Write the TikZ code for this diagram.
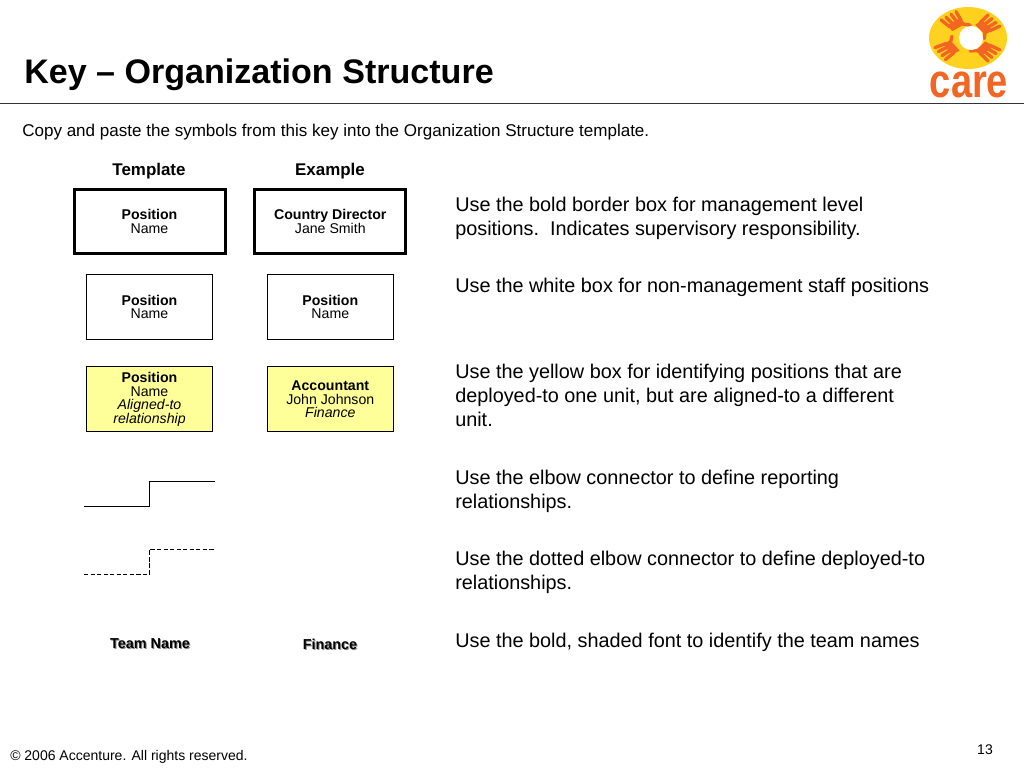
\documentclass[tikz,border=0pt]{standalone}
\usepackage{fontspec}
\setmainfont{Liberation Sans}
\usepackage{xcolor}
\usetikzlibrary{positioning}
\definecolor{boxyellow}{HTML}{FFFF99}
\definecolor{careorange}{HTML}{F26522}
\definecolor{careyellow}{HTML}{FFD21F}

\begin{document}
\begin{tikzpicture}[
    x=0.75pt,
    y=-0.75pt,
    on grid,
    every node/.style={inner sep=0pt, text=black},
    boxbase/.style={
        rectangle,
        draw=black,
        align=center,
        font=\fontsize{10.6}{10.3}\selectfont
    },
    mgmtbox/.style={
        boxbase,
        line width=2.25pt,
        minimum width=113.25pt,
        minimum height=48pt,
        fill=white
    },
    staffbox/.style={
        boxbase,
        line width=0.75pt,
        minimum width=94.75pt,
        minimum height=49pt,
        fill=white
    },
    alignedbox/.style={
        staffbox,
        minimum height=48.75pt,
        fill=boxyellow
    },
    usetext/.style={
        anchor=north west,
        align=left,
        font=\fontsize{14.88}{18}\selectfont
    },
    headtext/.style={
        font=\fontsize{12.7}{14}\selectfont\bfseries
    },
    teamtext/.style={
        font=\fontsize{10.8}{12}\selectfont\bfseries
    },
    teamshadow/.style={
        teamtext,
        text=black!45
    },
    elbow/.style={
        line width=0.7pt,
        draw=black
    },
    finger/.style={
        line width=2.5pt,
        line cap=round,
        draw=careorange
    }
]
\useasboundingbox (0,0) rectangle (1024,768);

% header
\node[anchor=west, font=\fontsize{25.55}{30}\selectfont\bfseries] (title) at (24,75) {Key – Organization Structure};
\coordinate (ruleleft) at (0,103);
\coordinate (ruleright) at (1024,103);
\draw[line width=0.75pt, black!80] (ruleleft) -- (ruleright);
\node[anchor=west, font=\fontsize{12.78}{14}\selectfont] (intro) at (22,132) {Copy and paste the symbols from this key into the Organization Structure template.};

% logo
\fill[careyellow] (968,38) ellipse [x radius=39, y radius=31];
\foreach \ang in {40,125,215,320} {
    \begin{scope}[shift={(968,38)}, yscale=0.8, rotate=\ang]
        \fill[careorange] (16,-8) rectangle (25,8);
        \foreach \off in {-7,-2.4,2.4,7} {
            \draw[finger] (22,\off) -- (34,\off*1.3);
        }
        \draw[finger] (17,6) -- (12,11);
    \end{scope}
}
\fill[white] (971,38) circle [radius=12];
\node[anchor=base, text=careorange, font=\fontsize{28.5}{30}\selectfont\bfseries] (logotext) at (969,97) {\scalebox{1}[1.25]{care}};

% column heads
\node[headtext] (template) at (149,171.5) {Template};
\node[headtext] (example) at (330,171.5) {Example};

% boxes
\node[mgmtbox] (mgmtt) at (149.5,221.5) {\textbf{Position}\\Name};
\node[mgmtbox, right=135.6pt of mgmtt] (mgmte) {\textbf{Country Director}\\Jane Smith};
\node[staffbox, below=64pt of mgmtt] (stafft) {\textbf{Position}\\Name};
\node[staffbox, right=135.6pt of stafft] (staffe) {\textbf{Position}\\Name};
\node[alignedbox, below=69.4pt of stafft] (alignedt) {\textbf{Position}\\Name\\\textit{Aligned-to}\\\textit{relationship}};
\node[alignedbox, right=135.6pt of alignedt] (alignede) {\textbf{Accountant}\\John Johnson\\\textit{Finance}};

% connectors
\coordinate (solida) at (84,506);
\coordinate (solidm) at (149.5,493);
\coordinate (solidb) at (215,481);
\draw[elbow] (solida) -| (solidm) |- (solidb);
\coordinate (dotteda) at (84,574);
\coordinate (dottedm) at (149.5,561);
\coordinate (dottedb) at (215,549);
\draw[elbow, dash pattern=on 3.2pt off 1.7pt] (dotteda) -| (dottedm) |- (dottedb);

% team names
\node[teamshadow] (teamtshadow) at (151,645) {Team Name};
\node[teamtext] (teamt) at (150,644) {Team Name};
\node[teamshadow] (teameshadow) at (331,645) {Finance};
\node[teamtext] (teame) at (330,644) {Finance};

% descriptions
\node[usetext] (usemgmt) at (455,197) {Use the bold border box for management level\\positions.\ \ Indicates supervisory responsibility.};
\node[usetext] (usestaff) at (455,278) {Use the white box for non-management staff positions};
\node[usetext] (usealigned) at (455,364) {Use the yellow box for identifying positions that are\\deployed-to one unit, but are aligned-to a different\\unit.};
\node[usetext] (useelbow) at (455,470) {Use the elbow connector to define reporting\\relationships.};
\node[usetext] (usedotted) at (455,551) {Use the dotted elbow connector to define deployed-to\\relationships.};
\node[usetext] (useteam) at (455,632.5) {Use the bold, shaded font to identify the team names};

% footer
\node[anchor=west, font=\fontsize{10.5}{12}\selectfont] (copyright) at (10,757) {© 2006 Accenture. All rights reserved.};
\node[font=\fontsize{10.5}{12}\selectfont] (pageno) at (985,750) {13};

\end{tikzpicture}
\end{document}
